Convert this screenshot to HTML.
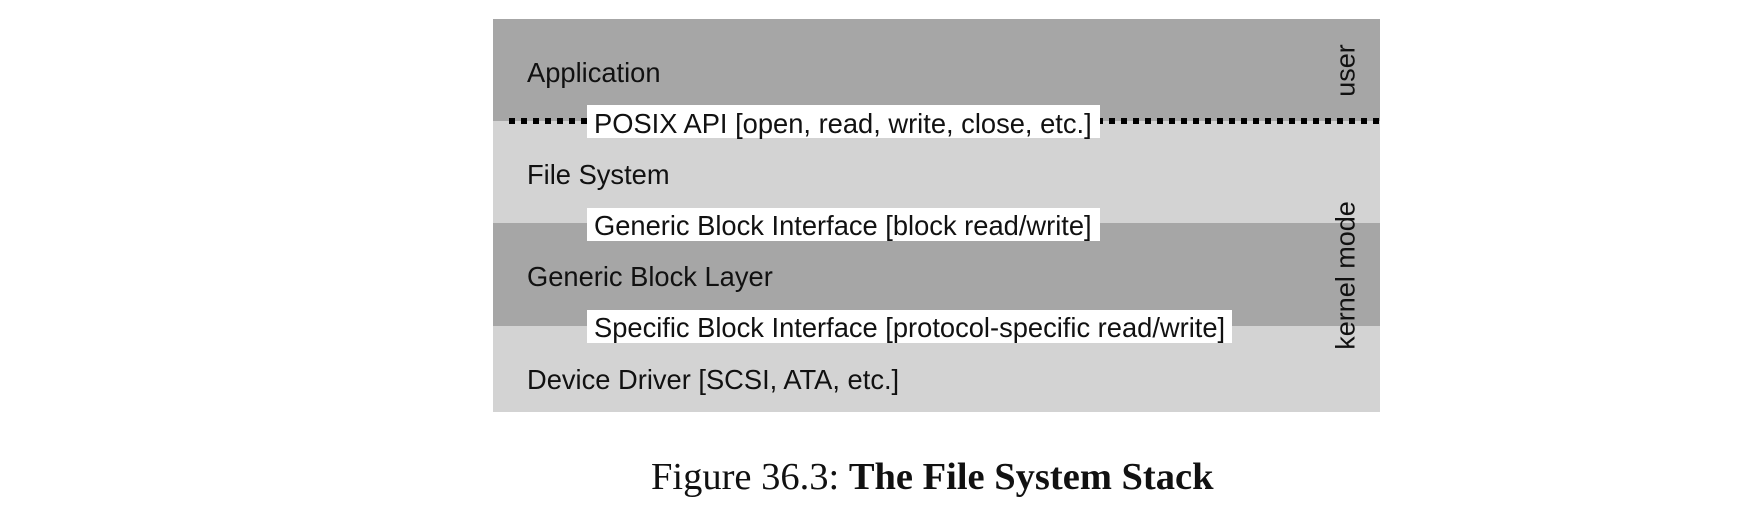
<!DOCTYPE html>
<html><head><style>
body{margin:0;width:1752px;height:506px;background:#fff;position:relative;overflow:hidden;font-family:"Liberation Sans",sans-serif}
.b{position:absolute;left:493px;width:887px}
.t{position:absolute;font-size:27.3px;color:#111;white-space:nowrap;line-height:1}
.w{position:absolute;background:#fff;height:33px;left:587px}
.v{position:absolute;font-size:27px;transform:rotate(-90deg);transform-origin:center;white-space:nowrap;line-height:1;color:#111}
</style></head><body>
<div class="b" style="top:19px;height:102px;background:#a6a6a6"></div>
<div class="b" style="top:121px;height:102px;background:#d3d3d3"></div>
<div class="b" style="top:223px;height:103px;background:#a6a6a6"></div>
<div class="b" style="top:326px;height:86px;background:#d3d3d3"></div>
<svg style="position:absolute;left:0;top:0" width="1752" height="506"><line x1="509" y1="121" x2="1380" y2="121" stroke="#000" stroke-width="6" stroke-dasharray="6 6"/></svg>
<div class="w" style="top:105px;width:513px"></div>
<div class="w" style="top:208px;width:513px"></div>
<div class="w" style="top:310px;width:645px"></div>
<div class="t" style="left:527px;top:59px">Application</div>
<div class="t" style="left:594px;top:110px">POSIX API [open, read, write, close, etc.]</div>
<div class="t" style="left:527px;top:161px">File System</div>
<div class="t" style="left:594px;top:212px">Generic Block Interface [block read/write]</div>
<div class="t" style="left:527px;top:263px">Generic Block Layer</div>
<div class="t" style="left:594px;top:314px">Specific Block Interface [protocol-specific read/write]</div>
<div class="t" style="left:527px;top:366px">Device Driver [SCSI, ATA, etc.]</div>
<div class="v" style="left:1306px;top:57px;width:80px;text-align:center">user</div>
<div class="v" style="left:1271px;top:262px;width:150px;text-align:center">kernel mode</div>
<div style="position:absolute;left:651px;top:458px;font-family:'Liberation Serif',serif;font-size:38.5px;line-height:1;white-space:nowrap;color:#111">Figure 36.3: <b>The File System Stack</b></div>
</body></html>
